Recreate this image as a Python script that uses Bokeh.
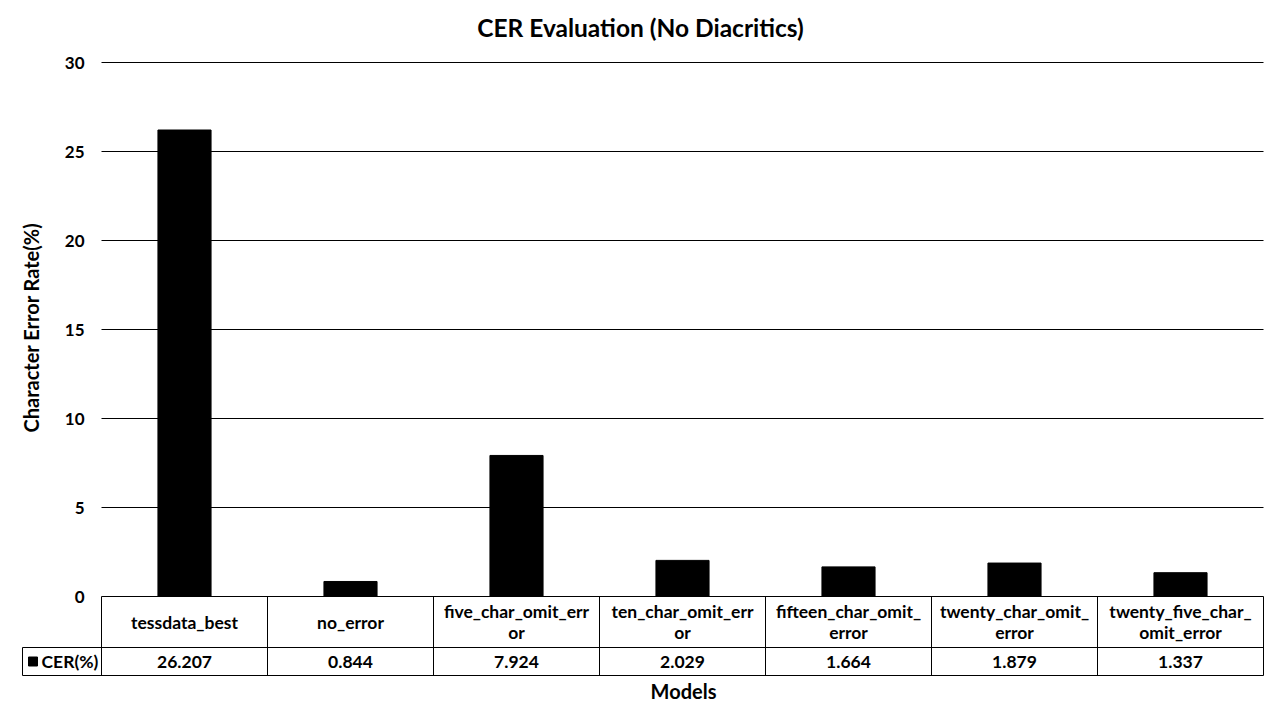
import math
from bokeh.plotting import figure
from bokeh.models import Range1d
from bokeh.embed import file_html
from bokeh.resources import INLINE
from bokeh.core.properties import value

# ---------------- data ----------------
title_text = "CER Evaluation (No Diacritics)"
models = ["tessdata_best", "no_error", "five_char_omit_error", "ten_char_omit_error",
          "fifteen_char_omit_error", "twenty_char_omit_error", "twenty_five_char_omit_error"]
model_labels = ["tessdata_best", "no_error", "five_char_omit_err\nor", "ten_char_omit_err\nor",
                "fifteen_char_omit_\nerror", "twenty_char_omit_\nerror", "twenty_five_char_\nomit_error"]
cer = [26.207, 0.844, 7.924, 2.029, 1.664, 1.879, 1.337]
y_ticks = [0, 5, 10, 15, 20, 25, 30]
series_name = "CER(%)"
y_title = "Character Error Rate(%)"
x_title = "Models"

# ---------------- layout (canvas pixels) ----------------
W, H = 1264, 704
PLOT_LEFT, PLOT_RIGHT = 101, 1263
PLOT_TOP, PLOT_BOTTOM = 62, 596
Y_MAX = 30
TABLE_LEFT = 22
HDR_BOTTOM = 647
TABLE_BOTTOM = 675
n = len(models)
cat_px = (PLOT_RIGHT - PLOT_LEFT) / n
unit_px = (PLOT_BOTTOM - PLOT_TOP) / Y_MAX


def dx(px):
    return (px - PLOT_LEFT) / cat_px - 0.5


def dy(py):
    return (PLOT_BOTTOM - py) / unit_px


FONT = value("Lato")
TXT = "17.5px"

p = figure(width=W, height=H,
           x_range=Range1d(dx(0), dx(W)),
           y_range=Range1d(dy(H), dy(0)),
           x_axis_location=None, y_axis_location=None,
           min_border=0, output_backend="svg", toolbar_location=None)
p.outline_line_color = None
p.background_fill_color = "white"
p.border_fill_color = "white"
p.xgrid.visible = False
p.ygrid.visible = False

# gridlines
p.segment(x0=[-0.5] * len(y_ticks), x1=[n - 0.5] * len(y_ticks), y0=y_ticks, y1=y_ticks,
          line_color="black", line_width=1)
# y tick labels
p.text(x=[dx(84)] * len(y_ticks), y=y_ticks, text=[str(t) for t in y_ticks],
       text_font=FONT, text_font_style="bold", text_font_size="17px",
       text_align="right", text_baseline="middle", text_color="black")

# bars
xs = list(range(n))
p.vbar(x=xs, top=cer, bottom=0, width=0.32, fill_color="black", line_color="black")

# data table lines
vx = [i - 0.5 for i in range(n + 1)]
p.segment(x0=vx, x1=vx, y0=[0] * len(vx), y1=[dy(TABLE_BOTTOM)] * len(vx),
          line_color="black", line_width=1)
p.segment(x0=[dx(TABLE_LEFT)], x1=[dx(TABLE_LEFT)], y0=[dy(HDR_BOTTOM)], y1=[dy(TABLE_BOTTOM)],
          line_color="black", line_width=1)
p.segment(x0=[dx(TABLE_LEFT)] * 2, x1=[n - 0.5] * 2, y0=[dy(HDR_BOTTOM), dy(TABLE_BOTTOM)],
          y1=[dy(HDR_BOTTOM), dy(TABLE_BOTTOM)], line_color="black", line_width=1)

# header labels
p.text(x=xs, y=[dy((PLOT_BOTTOM + HDR_BOTTOM) / 2)] * n, text=model_labels,
       text_font=FONT, text_font_style="bold", text_font_size=TXT,
       text_align="center", text_baseline="middle", text_line_height=1.0, text_color="black")
# values
row_mid = dy((HDR_BOTTOM + TABLE_BOTTOM) / 2)
p.text(x=xs, y=[row_mid] * n, text=[f"{v:.3f}" for v in cer],
       text_font=FONT, text_font_style="bold", text_font_size=TXT,
       text_align="center", text_baseline="middle", text_color="black")
# legend key
p.scatter(x=[dx(32.5)], y=[row_mid], marker="square", size=9, fill_color="black", line_color="black")
p.text(x=[dx(41)], y=[row_mid], text=[series_name],
       text_font=FONT, text_font_style="bold", text_font_size=TXT,
       text_align="left", text_baseline="middle", text_color="black")

# titles
p.text(x=[dx(640)], y=[dy(27)], text=[title_text],
       text_font=FONT, text_font_style="bold", text_font_size="24.5px",
       text_align="center", text_baseline="middle", text_color="black")
p.text(x=[dx(30)], y=[dy(327)], text=[y_title], angle=math.pi / 2,
       text_font=FONT, text_font_style="bold", text_font_size="20px",
       text_align="center", text_baseline="middle", text_color="black")
p.text(x=[dx(683)], y=[dy(690)], text=[x_title],
       text_font=FONT, text_font_style="bold", text_font_size="20px",
       text_align="center", text_baseline="middle", text_color="black")

open("out.html", "w").write(file_html(p, INLINE))
